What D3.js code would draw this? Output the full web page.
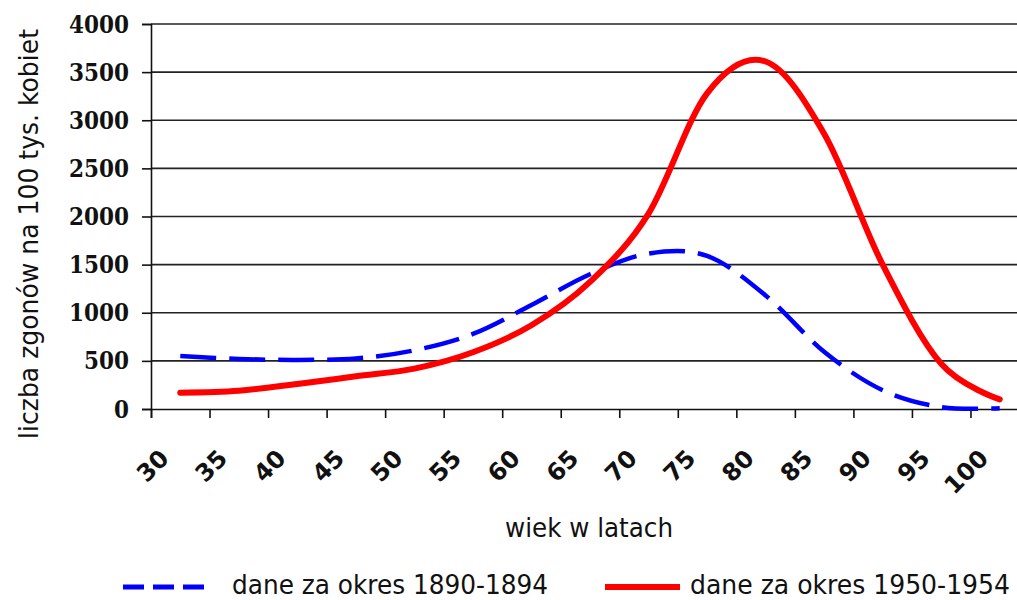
<!DOCTYPE html>
<html><head><meta charset="utf-8">
<script src="https://cdn.jsdelivr.net/npm/d3@7"></script>
<style>body{margin:0;background:#fff} svg{display:block}</style>
</head><body>
<svg id="c" width="1017" height="600"></svg>
<script>
const categories = ["30","35","40","45","50","55","60","65","70","75","80","85","90","95","100"];
const series1890 = [550,520,510,525,610,780,1080,1400,1615,1590,1180,595,195,20,8];
const series1950 = [170,190,260,340,420,590,870,1320,2030,3280,3610,2860,1500,470,100];
const yTicks = [0,500,1000,1500,2000,2500,3000,3500,4000];
const seriesNames = ["dane za okres 1890-1894","dane za okres 1950-1954"];
const seriesColors = ["#0000ff","#ff0000"];
const xTitle = "wiek w latach";
const yTitle = "liczba zgonów na 100 tys. kobiet";

const W = 1017, H = 600;
const mLeft = 151, mRight = 1029, mTop = 24, mBottom = 409;
const svg = d3.select("#c");

const x = d3.scaleBand().domain(categories).range([mLeft, mRight]).padding(0);
const xEdge = d3.scaleLinear().domain([0, categories.length]).range([mLeft, mRight]);
const y = d3.scaleLinear().domain([0, 4000]).range([mBottom, mTop]);

// gridlines
svg.append("g").selectAll("line").data(yTicks.filter(d => d > 0)).join("line")
  .attr("x1", mLeft).attr("x2", W).attr("y1", d => y(d)).attr("y2", d => y(d))
  .attr("stroke", "#222").attr("stroke-width", 1.6);

// y axis
const ya = svg.append("g").attr("transform", `translate(${mLeft},0)`)
  .call(d3.axisLeft(y).tickValues(yTicks).tickSize(9).tickPadding(13).tickFormat(d3.format("d")));
ya.select(".domain").attr("stroke", "#111").attr("stroke-width", 1.6);
ya.selectAll(".tick line").attr("stroke", "#111").attr("stroke-width", 1.6);
ya.selectAll(".tick text")
  .attr("font-family", "'DejaVu Serif', serif").attr("font-weight", "bold")
  .attr("font-size", 25).attr("fill", "#111")
  .attr("textLength", d => String(d).length * 15).attr("lengthAdjust", "spacingAndGlyphs");

// x axis ticks at category boundaries
const xa = svg.append("g").attr("transform", `translate(0,${mBottom})`)
  .call(d3.axisBottom(xEdge).tickValues(d3.range(0, categories.length + 1)).tickSize(9).tickFormat(""));
xa.select(".domain").attr("stroke", "#111").attr("stroke-width", 1.6);
xa.selectAll(".tick line").attr("stroke", "#111").attr("stroke-width", 1.6);

// x axis labels centred on categories
const xl = svg.append("g").attr("transform", `translate(0,${mBottom})`)
  .call(d3.axisBottom(x).tickSize(0));
xl.select(".domain").remove();
xl.selectAll(".tick text")
  .attr("font-family", "'DejaVu Sans', sans-serif").attr("font-weight", "bold")
  .attr("font-size", 24).attr("fill", "#111")
  .attr("text-anchor", "end").attr("x", 0).attr("y", 0).attr("dy", 0)
  .attr("transform", "translate(-10,51) rotate(-45)");

// lines
const line = d3.line().x((d, i) => x(categories[i]) + x.bandwidth() / 2).y(d => y(d)).curve(d3.curveCardinal.tension(0));
svg.append("path").datum(series1890).attr("d", line).attr("fill", "none")
  .attr("stroke", seriesColors[0]).attr("stroke-width", 4.5).attr("stroke-dasharray", "36,13");
svg.append("path").datum(series1950).attr("d", line).attr("fill", "none")
  .attr("stroke", seriesColors[1]).attr("stroke-width", 6).attr("stroke-linecap", "round");

// titles
const txtFont = "'DejaVu Sans Condensed', 'DejaVu Sans', sans-serif";
svg.append("text").text(xTitle).attr("x", 589).attr("y", 537).attr("text-anchor", "middle")
  .attr("font-family", txtFont).attr("font-stretch", "condensed")
  .attr("font-size", 27).attr("fill", "#111")
  .attr("textLength", 168).attr("lengthAdjust", "spacingAndGlyphs");
svg.append("text").text(yTitle).attr("transform", "translate(38,234) rotate(-90)").attr("text-anchor", "middle")
  .attr("font-family", txtFont).attr("font-stretch", "condensed")
  .attr("font-size", 27).attr("fill", "#111")
  .attr("textLength", 410).attr("lengthAdjust", "spacingAndGlyphs");

// legend
const lg = svg.append("g");
lg.append("line").attr("x1", 123).attr("x2", 205).attr("y1", 587).attr("y2", 587)
  .attr("stroke", seriesColors[0]).attr("stroke-width", 5).attr("stroke-dasharray", "21,9");
lg.append("text").text(seriesNames[0]).attr("x", 232).attr("y", 594)
  .attr("font-family", txtFont).attr("font-stretch", "condensed")
  .attr("font-size", 26).attr("fill", "#111")
  .attr("textLength", 316).attr("lengthAdjust", "spacingAndGlyphs");
lg.append("line").attr("x1", 605).attr("x2", 680).attr("y1", 587).attr("y2", 587)
  .attr("stroke", seriesColors[1]).attr("stroke-width", 6);
lg.append("text").text(seriesNames[1]).attr("x", 690).attr("y", 594)
  .attr("font-family", txtFont).attr("font-stretch", "condensed")
  .attr("font-size", 26).attr("fill", "#111")
  .attr("textLength", 320).attr("lengthAdjust", "spacingAndGlyphs");
</script>
</body></html>
